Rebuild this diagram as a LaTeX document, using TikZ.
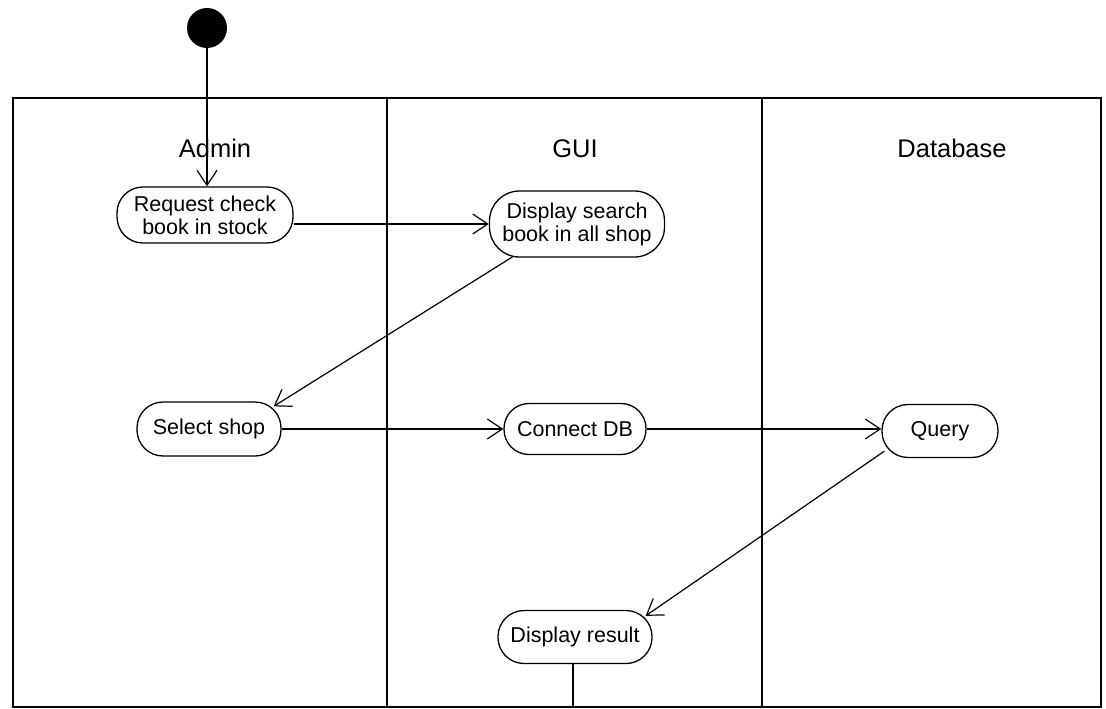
\documentclass[tikz,border=0pt]{standalone}
\usepackage{fontspec}
\setmainfont{Liberation Sans}
\usetikzlibrary{arrows.meta}
\begin{document}
\begin{tikzpicture}[x=1pt,y=-1pt,
  act/.style={draw,line width=1.3pt,rounded corners=26pt,align=center,inner sep=0pt,
    font=\fontsize{21.5}{23}\selectfont},
  lane/.style={font=\fontsize{25.5}{28}\selectfont,anchor=base},
  flow/.style={line width=1.2pt,-{Straight Barb[length=15pt,width=20pt,line width=1.2pt]}},
  frame/.style={line width=1.8pt}]
\useasboundingbox (0,0) rectangle (1106,709);
% swimlanes
\draw[frame] (13,98) rectangle (1101,707);
\draw[frame] (387,98) -- (387,707);
\draw[frame] (762,98) -- (762,707);
\node[lane] (ladmin) at (215,157) {Admin};
\node[lane] (lgui) at (575,157) {GUI};
\node[lane] (ldb) at (952,157) {Database};
% initial node
\node[circle,fill=black,minimum size=40pt,inner sep=0pt] (init) at (207,28) {};
% activities
\node[act,minimum width=176pt,minimum height=56pt] (req) at (205,215) {Request check\\book in stock};
\node[act,minimum width=175pt,minimum height=66pt,rounded corners=30pt] (disp) at (577,224) {Display search\\book in all shop};
\node[act,minimum width=144pt,minimum height=54pt] (sel) at (209,429) {Select shop};
\node[act,minimum width=142pt,minimum height=51pt,rounded corners=25pt] (conn) at (575,429) {Connect DB};
\node[act,minimum width=116pt,minimum height=53pt] (query) at (940,431) {Query};
\node[act,minimum width=154pt,minimum height=53pt] (res) at (575,637) {Display result};
\coordinate (end) at (573,707);
% flows
\draw[flow] (init) -- (init |- req.north);
\draw[flow] (req.east |- disp.west) -- (disp.west);
\draw[flow] ([xshift=24pt,yshift=1pt]disp.south west) -- ([xshift=-8pt,yshift=-5pt]sel.north east);
\draw[flow] (sel.east) -- (conn.west);
\draw[flow] (conn.east) -- (conn.east -| query.west);
\draw[flow] ([xshift=3pt,yshift=7pt]query.south west) -- ([xshift=-7pt,yshift=-6pt]res.north east);
\draw[line width=1.2pt] (res.south -| end) -- (end);
\end{tikzpicture}
\end{document}
